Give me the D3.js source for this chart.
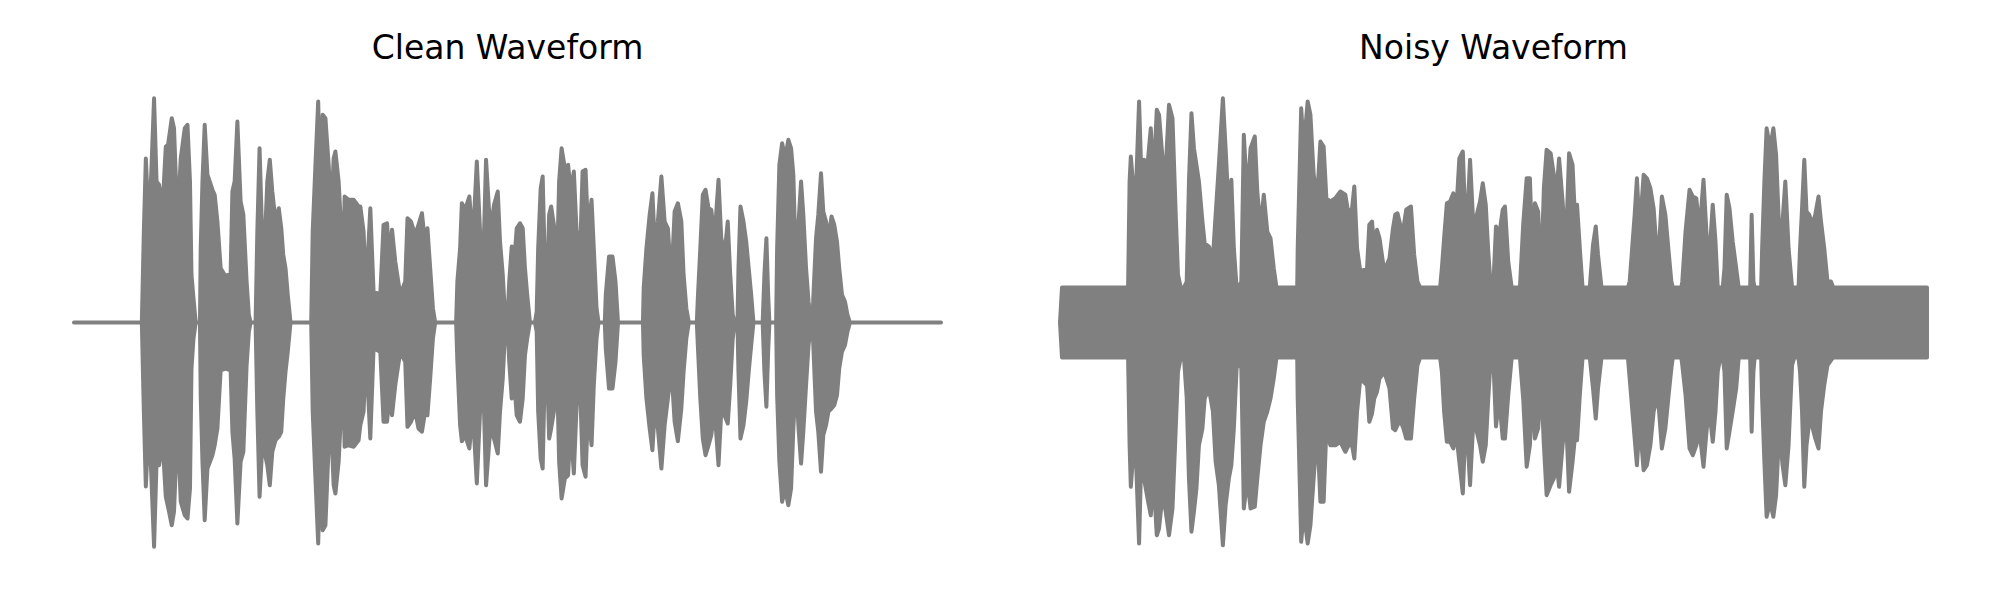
<!DOCTYPE html>
<html>
<head>
<meta charset="utf-8">
<script src="https://cdn.jsdelivr.net/npm/d3@7"></script>
<style>
  html, body { margin: 0; padding: 0; background: #ffffff; }
  svg { display: block; }
</style>
</head>
<body>
<svg id="chart" width="2000" height="600"></svg>
<script>
// ---- Data: waveform envelopes: [time (s), upper peak, lower peak] ----
const panelTitles = ["Clean Waveform", "Noisy Waveform"];
const duration = 3.476;

const cleanEnvelope = [
  [0,0,0],[0.268,0,0],[0.272,0,0],[0.280,0.364,-0.356],[0.288,0.656,-0.656],[0.297,0.457,-0.464],
  [0.305,0.471,-0.484],[0.321,0.897,-0.897],[0.331,0.564,-0.557],[0.341,0.551,-0.571],[0.355,0.457,-0.475],
  [0.368,0.704,-0.697],[0.377,0.711,-0.737],[0.392,0.817,-0.811],[0.401,0.777,-0.757],[0.415,0.397,-0.397],
  [0.428,0.656,-0.717],[0.444,0.777,-0.771],[0.455,0.791,-0.784],[0.465,0.564,-0.664],[0.471,0.191,-0.184],
  [0.479,0.097,-0.064],[0.488,0,0],[0.505,0,0],[0.508,0.297,-0.291],[0.515,0.564,-0.557],[0.524,0.791,-0.791],
  [0.535,0.591,-0.584],[0.555,0.531,-0.531],[0.564,0.511,-0.491],[0.575,0.404,-0.424],[0.588,0.217,-0.191],
  [0.608,0.184,-0.184],[0.628,0.197,-0.191],[0.635,0.524,-0.437],[0.644,0.564,-0.544],[0.655,0.804,-0.804],
  [0.668,0.484,-0.557],[0.679,0.431,-0.517],[0.692,0.164,-0.171],[0.701,0.031,-0.037],[0.708,0,0],[0.728,0,0],
  [0.735,0.364,-0.356],[0.744,0.697,-0.697],[0.755,0.324,-0.491],[0.764,0.297,-0.517],[0.775,0.564,-0.571],
  [0.785,0.651,-0.651],[0.795,0.524,-0.517],[0.808,0.404,-0.471],[0.821,0.457,-0.457],[0.831,0.377,-0.437],
  [0.839,0.271,-0.304],[0.848,0.217,-0.197],[0.857,0.111,-0.117],[0.868,0,0],[0.951,0,0],[0.957,0.364,-0.356],
  [0.968,0.631,-0.624],[0.979,0.884,-0.884],[0.988,0.497,-0.531],[0.997,0.831,-0.831],[1.008,0.817,-0.811],
  [1.021,0.631,-0.491],[1.031,0.431,-0.411],[1.041,0.656,-0.651],[1.048,0.684,-0.684],[1.061,0.564,-0.557],
  [1.071,0.377,-0.356],[1.079,0.217,-0.211],[1.085,0.504,-0.497],[1.101,0.491,-0.491],[1.121,0.491,-0.497],
  [1.141,0.464,-0.471],[1.148,0.464,-0.411],[1.161,0.364,-0.356],[1.171,0.124,-0.117],[1.188,0.457,-0.464],
  [1.201,0.124,-0.104],[1.228,0.111,-0.117],[1.241,0.391,-0.397],[1.255,0.397,-0.397],[1.264,0.257,-0.304],
  [1.275,0.371,-0.371],[1.288,0.244,-0.251],[1.308,0.111,-0.117],[1.328,0.164,-0.157],[1.337,0.417,-0.417],
  [1.351,0.404,-0.397],[1.368,0.351,-0.356],[1.381,0.391,-0.424],[1.395,0.437,-0.437],[1.408,0.311,-0.356],
  [1.417,0.377,-0.371],[1.428,0.217,-0.224],[1.439,0.057,-0.064],[1.448,0,0],[1.532,0,0],[1.537,0.164,-0.157],
  [1.548,0.297,-0.411],[1.555,0.477,-0.475],[1.568,0.451,-0.451],[1.585,0.504,-0.504],[1.599,0.324,-0.356],
  [1.615,0.644,-0.644],[1.628,0.364,-0.356],[1.639,0.177,-0.171],[1.652,0.651,-0.651],[1.665,0.431,-0.475],
  [1.675,0.404,-0.411],[1.684,0.471,-0.464],[1.699,0.524,-0.524],[1.708,0.324,-0.356],[1.719,0.191,-0.224],
  [1.728,0.031,-0.037],[1.737,0,0],[1.745,0.164,-0.157],[1.755,0.304,-0.304],[1.764,0.231,-0.224],
  [1.775,0.377,-0.371],[1.788,0.397,-0.397],[1.799,0.377,-0.304],[1.808,0.217,-0.131],[1.817,0.111,-0.064],
  [1.828,0,0],[1.848,0,0],[1.855,0.044,-0.037],[1.861,0.297,-0.356],[1.871,0.537,-0.544],[1.879,0.584,-0.584],
  [1.888,0.217,-0.171],[1.897,0.164,-0.197],[1.905,0.431,-0.464],[1.913,0.464,-0.424],[1.924,0.391,-0.356],
  [1.935,0.164,-0.117],[1.945,0.564,-0.557],[1.955,0.697,-0.704],[1.968,0.617,-0.624],[1.981,0.631,-0.611],
  [1.991,0.524,-0.411],[2.004,0.604,-0.604],[2.015,0.364,-0.331],[2.028,0.244,-0.224],[2.039,0.604,-0.571],
  [2.051,0.611,-0.617],[2.061,0.364,-0.344],[2.075,0.491,-0.491],[2.084,0.297,-0.251],[2.095,0.057,-0.064],
  [2.103,0,0],[2.128,0,0],[2.132,0.111,-0.104],[2.145,0.264,-0.264],[2.159,0.264,-0.264],[2.171,0.164,-0.157],
  [2.181,0,0],[2.281,0,0],[2.284,0.137,-0.131],[2.295,0.297,-0.304],[2.308,0.431,-0.424],[2.319,0.517,-0.511],
  [2.328,0.324,-0.356],[2.341,0.404,-0.424],[2.355,0.584,-0.584],[2.368,0.404,-0.411],[2.381,0.377,-0.304],
  [2.395,0.164,-0.184],[2.408,0.444,-0.397],[2.421,0.477,-0.475],[2.435,0.404,-0.344],[2.444,0.191,-0.197],
  [2.455,0.057,-0.064],[2.465,0,0],[2.497,0,0],[2.501,0.097,-0.091],[2.511,0.297,-0.304],[2.521,0.511,-0.464],
  [2.532,0.531,-0.531],[2.544,0.457,-0.491],[2.555,0.451,-0.451],[2.568,0.337,-0.344],[2.584,0.571,-0.571],
  [2.595,0.337,-0.356],[2.608,0.271,-0.371],[2.621,0.404,-0.404],[2.631,0.191,-0.251],[2.641,0.031,-0.064],
  [2.649,0,0],[2.660,0,0],[2.664,0.217,-0.197],[2.672,0.464,-0.464],[2.684,0.404,-0.411],[2.695,0.324,-0.317],
  [2.705,0.217,-0.197],[2.715,0.111,-0.091],[2.724,0,0],[2.761,0,0],[2.768,0.191,-0.197],[2.776,0.337,-0.337],
  [2.783,0.111,-0.117],[2.788,0,0],[2.815,0,0],[2.819,0.297,-0.291],[2.828,0.631,-0.557],[2.839,0.717,-0.717],
  [2.851,0.656,-0.664],[2.864,0.731,-0.731],[2.875,0.697,-0.664],[2.884,0.591,-0.424],[2.895,0.191,-0.224],
  [2.905,0.404,-0.424],[2.915,0.564,-0.564],[2.924,0.431,-0.437],[2.935,0.217,-0.251],[2.945,0.084,-0.091],
  [2.955,0,0],[2.961,0,0],[2.964,0.097,-0.091],[2.975,0.337,-0.356],[2.984,0.431,-0.437],[2.995,0.597,-0.597],
  [3.004,0.444,-0.451],[3.015,0.404,-0.411],[3.025,0.337,-0.356],[3.037,0.424,-0.344],[3.048,0.391,-0.331],
  [3.059,0.324,-0.291],[3.068,0.217,-0.184],[3.079,0.111,-0.117],[3.091,0.084,-0.091],[3.101,0.031,-0.037],
  [3.111,0,0],[3.476,0,0]
];

const noisyEnvelope = [
  [0,0,0],[0.008,0.14,-0.14],[0.273,0.14,-0.14],[0.279,0.564,-0.491],[0.284,0.664,-0.657],[0.295,0.524,-0.504],
  [0.304,0.511,-0.531],[0.317,0.884,-0.884],[0.327,0.564,-0.504],[0.337,0.651,-0.624],[0.351,0.631,-0.704],
  [0.364,0.777,-0.771],[0.375,0.564,-0.624],[0.388,0.851,-0.851],[0.397,0.831,-0.824],[0.411,0.656,-0.691],
  [0.424,0.617,-0.757],[0.437,0.871,-0.851],[0.451,0.817,-0.744],[0.464,0.431,-0.424],[0.473,0.191,-0.197],
  [0.484,0.14,-0.14],[0.497,0.14,-0.14],[0.508,0.164,-0.30],[0.517,0.564,-0.624],[0.527,0.837,-0.837],
  [0.537,0.697,-0.757],[0.547,0.631,-0.664],[0.557,0.564,-0.491],[0.571,0.404,-0.424],[0.580,0.317,-0.304],
  [0.597,0.304,-0.264],[0.613,0.257,-0.356],[0.624,0.431,-0.557],[0.637,0.631,-0.651],[0.653,0.897,-0.891],
  [0.664,0.697,-0.731],[0.677,0.431,-0.624],[0.687,0.571,-0.571],[0.697,0.297,-0.424],[0.708,0.14,-0.184],
  [0.717,0.14,-0.14],[0.727,0.164,-0.184],[0.737,0.751,-0.744],[0.751,0.497,-0.624],[0.764,0.697,-0.744],
  [0.781,0.744,-0.737],[0.791,0.524,-0.624],[0.804,0.377,-0.491],[0.817,0.511,-0.397],[0.831,0.364,-0.356],
  [0.844,0.337,-0.304],[0.857,0.217,-0.224],[0.868,0.14,-0.14],[0.951,0.14,-0.14],[0.953,0.297,-0.304],
  [0.967,0.857,-0.877],[0.977,0.697,-0.757],[0.993,0.884,-0.884],[1.004,0.831,-0.811],[1.017,0.591,-0.624],
  [1.031,0.497,-0.424],[1.044,0.724,-0.717],[1.057,0.704,-0.717],[1.068,0.497,-0.424],[1.084,0.484,-0.491],
  [1.104,0.497,-0.491],[1.124,0.524,-0.477],[1.144,0.511,-0.517],[1.157,0.431,-0.491],[1.171,0.457,-0.491],
  [1.180,0.544,-0.544],[1.191,0.297,-0.356],[1.204,0.204,-0.224],[1.231,0.217,-0.251],[1.240,0.391,-0.397],
  [1.251,0.404,-0.364],[1.260,0.297,-0.304],[1.271,0.371,-0.277],[1.281,0.337,-0.224],[1.300,0.204,-0.197],
  [1.321,0.257,-0.264],[1.335,0.377,-0.424],[1.344,0.431,-0.431],[1.353,0.437,-0.411],[1.364,0.391,-0.391],
  [1.377,0.377,-0.424],[1.388,0.451,-0.464],[1.407,0.464,-0.464],[1.420,0.271,-0.304],[1.433,0.164,-0.171],
  [1.444,0.14,-0.14],[1.524,0.14,-0.14],[1.531,0.217,-0.197],[1.540,0.337,-0.356],[1.551,0.477,-0.477],
  [1.564,0.484,-0.477],[1.577,0.517,-0.504],[1.588,0.431,-0.437],[1.601,0.656,-0.557],[1.615,0.684,-0.684],
  [1.628,0.324,-0.356],[1.644,0.651,-0.651],[1.657,0.391,-0.397],[1.671,0.431,-0.437],[1.684,0.484,-0.491],
  [1.695,0.557,-0.557],[1.707,0.471,-0.491],[1.717,0.284,-0.304],[1.727,0.14,-0.14],[1.737,0.14,-0.14],
  [1.748,0.384,-0.416],[1.761,0.351,-0.304],[1.775,0.451,-0.464],[1.784,0.464,-0.464],[1.797,0.244,-0.291],
  [1.811,0.14,-0.14],[1.844,0.14,-0.14],[1.857,0.391,-0.304],[1.871,0.577,-0.577],[1.884,0.577,-0.491],
  [1.895,0.231,-0.251],[1.904,0.477,-0.464],[1.917,0.444,-0.424],[1.928,0.164,-0.224],[1.940,0.537,-0.491],
  [1.951,0.691,-0.691],[1.967,0.677,-0.651],[1.980,0.591,-0.624],[1.991,0.524,-0.557],[2.001,0.656,-0.657],
  [2.015,0.484,-0.491],[2.028,0.297,-0.356],[2.041,0.677,-0.677],[2.055,0.631,-0.557],[2.064,0.431,-0.464],
  [2.073,0.471,-0.471],[2.084,0.297,-0.291],[2.095,0.14,-0.14],[2.124,0.14,-0.14],[2.137,0.311,-0.264],
  [2.148,0.384,-0.384],[2.157,0.271,-0.264],[2.171,0.14,-0.14],[2.277,0.14,-0.14],[2.284,0.164,-0.224],
  [2.295,0.311,-0.356],[2.304,0.431,-0.464],[2.313,0.577,-0.571],[2.324,0.364,-0.397],[2.340,0.591,-0.591],
  [2.353,0.577,-0.571],[2.367,0.537,-0.491],[2.380,0.457,-0.356],[2.397,0.217,-0.291],[2.413,0.504,-0.504],
  [2.427,0.431,-0.424],[2.440,0.284,-0.291],[2.451,0.164,-0.184],[2.457,0.14,-0.14],[2.491,0.14,-0.14],
  [2.495,0.164,-0.171],[2.508,0.364,-0.291],[2.524,0.531,-0.504],[2.537,0.504,-0.531],[2.551,0.497,-0.491],
  [2.564,0.364,-0.437],[2.580,0.571,-0.577],[2.593,0.337,-0.424],[2.604,0.271,-0.356],[2.617,0.471,-0.477],
  [2.628,0.324,-0.356],[2.637,0.14,-0.197],[2.647,0.14,-0.14],[2.657,0.14,-0.14],[2.664,0.217,-0.197],
  [2.673,0.511,-0.504],[2.684,0.457,-0.437],[2.697,0.324,-0.356],[2.711,0.217,-0.264],[2.721,0.14,-0.14],
  [2.767,0.14,-0.14],[2.773,0.431,-0.437],[2.780,0.164,-0.197],[2.785,0.14,-0.14],[2.811,0.14,-0.14],
  [2.815,0.297,-0.304],[2.824,0.564,-0.557],[2.833,0.777,-0.777],[2.847,0.697,-0.717],[2.860,0.777,-0.777],
  [2.871,0.671,-0.691],[2.884,0.351,-0.424],[2.897,0.404,-0.571],[2.908,0.564,-0.651],[2.921,0.297,-0.491],
  [2.935,0.14,-0.171],[2.944,0.14,-0.14],[2.961,0.14,-0.14],[2.967,0.297,-0.197],[2.975,0.457,-0.356],
  [2.984,0.651,-0.657],[2.993,0.444,-0.491],[3.004,0.431,-0.397],[3.015,0.391,-0.411],[3.028,0.431,-0.464],
  [3.041,0.504,-0.504],[3.051,0.404,-0.356],[3.064,0.297,-0.251],[3.077,0.164,-0.171],[3.091,0.164,-0.151],
  [3.100,0.14,-0.14],[3.476,0.14,-0.14]
];

// ---- Layout ----
const panels = [
  { title: panelTitles[0], data: cleanEnvelope, x0: 74, x1: 941 },
  { title: panelTitles[1], data: noisyEnvelope, x0: 1060, x1: 1927 }
];
const plotTop = 72.5, plotBottom = 572.5;
const color = "#808080";

const svg = d3.select("#chart");

panels.forEach(p => {
  const x = d3.scaleLinear().domain([0, duration]).range([p.x0, p.x1]);
  const y = d3.scaleLinear().domain([-1, 1]).range([plotBottom, plotTop]);

  const area = d3.area()
    .x(d => x(d[0]))
    .y0(d => y(d[2]))
    .y1(d => y(d[1]))
    .curve(d3.curveLinear);

  svg.append("path")
    .datum(p.data)
    .attr("d", area)
    .attr("fill", color)
    .attr("stroke", color)
    .attr("stroke-width", 4)
    .attr("stroke-linejoin", "round");

  svg.append("text")
    .attr("x", (p.x0 + p.x1) / 2)
    .attr("y", 59)
    .attr("text-anchor", "middle")
    .attr("font-family", "DejaVu Sans")
    .attr("font-size", 33)
    .attr("fill", "#000")
    .text(p.title);
});
</script>
</body>
</html>
